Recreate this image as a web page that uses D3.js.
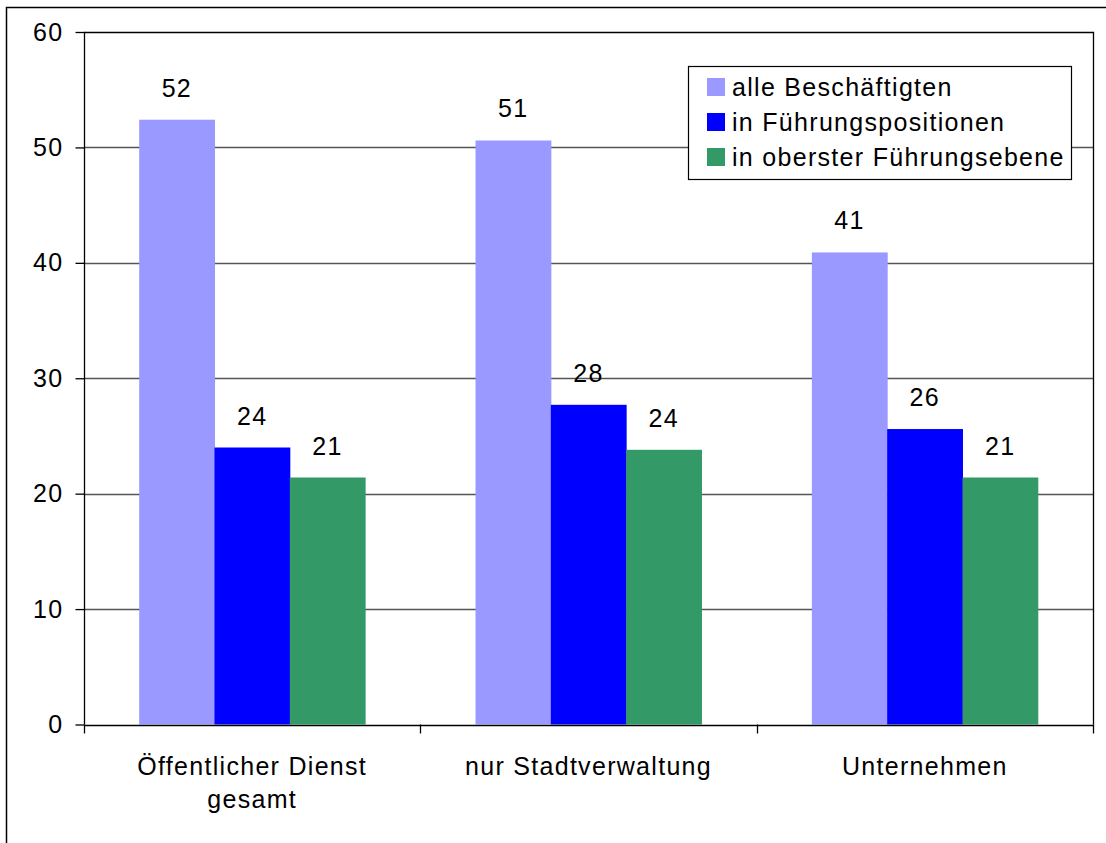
<!DOCTYPE html>
<html>
<head>
<meta charset="utf-8">
<script src="https://cdn.jsdelivr.net/npm/d3@7"></script>
<style>
  body { margin: 0; background: #fff; }
  svg { display: block; font-family: "Liberation Sans", Arial, sans-serif; }
  svg text { letter-spacing: 1.3px; }
</style>
</head>
<body>
<svg id="chart" width="1106" height="843"></svg>
<script>
// data
var categories = [["Öffentlicher Dienst", "gesamt"], ["nur Stadtverwaltung"], ["Unternehmen"]];
var seriesNames = ["alle Beschäftigten", "in Führungspositionen", "in oberster Führungsebene"];
var seriesColors = ["#9999ff", "#0000ff", "#339966"];
var alleBeschaeftigten = [52.4, 50.6, 40.9];
var fuehrungspositionen = [24.0, 27.7, 25.6];
var obersteEbene = [21.4, 23.8, 21.4];
var yTicks = [0, 10, 20, 30, 40, 50, 60];

var series = [alleBeschaeftigten, fuehrungspositionen, obersteEbene];

var svg = d3.select("#chart");
var pLeft = 84, pTop = 32, pRight = 1093, pBottom = 724.5;
var fs = 25;

// outer frame (runs off the right and bottom edge)
svg.append("rect")
  .attr("x", 6.5).attr("y", 7.5)
  .attr("width", 1110).attr("height", 850)
  .attr("fill", "none").attr("stroke", "#000").attr("stroke-width", 1.5);

var y = d3.scaleLinear().domain([0, 60]).range([pBottom, pTop]);
var x0 = d3.scaleBand().domain(d3.range(categories.length)).range([pLeft, pRight]);
var barW = x0.bandwidth() / 4.466;
var x1 = d3.scaleBand().domain(d3.range(series.length)).range([0, barW * 3]);

// gridlines
svg.append("g").selectAll("line")
  .data(yTicks.filter(function(t) { return t > 0 && t < 60; }))
  .enter().append("line")
  .attr("x1", pLeft).attr("x2", pRight)
  .attr("y1", function(d) { return Math.round(y(d)) + 0.5; })
  .attr("y2", function(d) { return Math.round(y(d)) + 0.5; })
  .attr("stroke", "#555").attr("stroke-width", 1.3);

// bars
var groups = svg.append("g").selectAll("g")
  .data(categories)
  .enter().append("g")
  .attr("transform", function(d, i) {
    return "translate(" + (x0(i) + (x0.bandwidth() - barW * 3) / 2) + ",0)";
  });

function rows(d, i) {
  return series.map(function(s, k) { return { k: k, v: s[i] }; });
}

groups.selectAll("rect")
  .data(rows)
  .enter().append("rect")
  .attr("x", function(d) { return x1(d.k); })
  .attr("width", x1.bandwidth() + 0.5)
  .attr("y", function(d) { return y(d.v); })
  .attr("height", function(d) { return pBottom - y(d.v); })
  .attr("fill", function(d) { return seriesColors[d.k]; });

groups.selectAll("text")
  .data(rows)
  .enter().append("text")
  .attr("x", function(d) { return x1(d.k) + x1.bandwidth() / 2; })
  .attr("y", function(d) { return y(d.v) - 23; })
  .attr("text-anchor", "middle")
  .attr("font-size", fs)
  .attr("fill", "#000")
  .text(function(d) { return Math.round(d.v); });

// plot frame: left, top, right
svg.append("path")
  .attr("d", "M" + (pLeft + 0.5) + "," + pBottom + "V" + (pTop + 0.5) + "H" + (pRight + 0.5) + "V" + pBottom)
  .attr("fill", "none").attr("stroke", "#000").attr("stroke-width", 1.3);

// y axis
var yAxis = svg.append("g")
  .attr("transform", "translate(" + (pLeft + 0.5) + ",0)")
  .call(d3.axisLeft(y).tickValues(yTicks).tickSize(9).tickPadding(12));
yAxis.select(".domain").remove();
yAxis.selectAll("line").attr("stroke", "#000").attr("stroke-width", 1.3);
yAxis.selectAll("text").attr("font-size", fs).attr("font-family", "Liberation Sans, Arial, sans-serif").attr("fill", "#000");

// x axis baseline and ticks at band boundaries
svg.append("line")
  .attr("x1", pLeft).attr("x2", pRight + 1)
  .attr("y1", Math.round(pBottom) + 0.5).attr("y2", Math.round(pBottom) + 0.5)
  .attr("stroke", "#000").attr("stroke-width", 1.5);
var bounds = d3.range(categories.length + 1).map(function(i) { return pLeft + i * x0.bandwidth(); });
svg.append("g").selectAll("line")
  .data(bounds)
  .enter().append("line")
  .attr("x1", function(d) { return Math.round(d) + 0.5; })
  .attr("x2", function(d) { return Math.round(d) + 0.5; })
  .attr("y1", pBottom).attr("y2", pBottom + 9)
  .attr("stroke", "#000").attr("stroke-width", 1.3);

// category labels
svg.append("g").selectAll("text")
  .data(categories)
  .enter().append("text")
  .attr("text-anchor", "middle")
  .attr("font-size", fs)
  .attr("fill", "#000")
  .attr("transform", function(d, i) { return "translate(" + (x0(i) + x0.bandwidth() / 2) + ",775)"; })
  .selectAll("tspan")
  .data(function(d) { return d; })
  .enter().append("tspan")
  .attr("x", 0)
  .attr("dy", function(d, j) { return j === 0 ? 0 : 33; })
  .text(function(d) { return d; });

// legend
var legend = svg.append("g").attr("transform", "translate(688,66)");
legend.append("rect")
  .attr("x", 0.5).attr("y", 0.5).attr("width", 383).attr("height", 113)
  .attr("fill", "#fff").attr("stroke", "#000").attr("stroke-width", 1.2);
var items = legend.selectAll("g.item")
  .data(seriesNames)
  .enter().append("g")
  .attr("class", "item")
  .attr("transform", function(d, i) { return "translate(0," + (21 + i * 35) + ")"; });
items.append("rect")
  .attr("x", 19).attr("y", -9).attr("width", 18).attr("height", 18)
  .attr("fill", function(d, i) { return seriesColors[i]; });
items.append("text")
  .attr("x", 44).attr("y", 9)
  .attr("font-size", fs)
  .attr("fill", "#000")
  .text(function(d) { return d; });
</script>
</body>
</html>
